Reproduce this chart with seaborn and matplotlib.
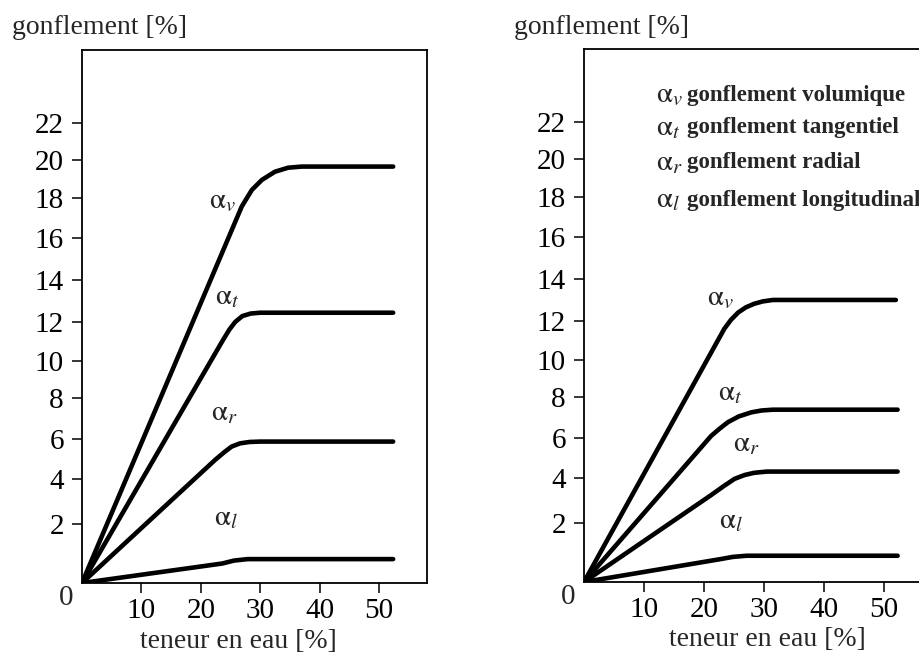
import numpy as np
import pandas as pd
import matplotlib
matplotlib.use("Agg")
import matplotlib.pyplot as plt
import seaborn as sns

# ---------------- data ----------------
series_names = ["v", "t", "r", "l"]

# left panel (curves)
left_v_x = [0, 26.9, 28.6, 30.3, 32.5, 34.7, 37.0, 52.4]
left_v_y = [0, 17.57, 18.42, 18.95, 19.38, 19.59, 19.65, 19.65]
left_t_x = [0, 23.6, 24.8, 25.8, 27.0, 28.4, 30.0, 52.4]
left_t_y = [0, 11.0, 11.6, 12.0, 12.28, 12.40, 12.44, 12.44]
left_r_x = [0, 22.4, 24.0, 25.2, 26.6, 28.2, 30.0, 52.4]
left_r_y = [0, 4.95, 5.35, 5.62, 5.78, 5.85, 5.87, 5.87]
left_l_x = [0, 23.6, 25.6, 27.9, 52.4]
left_l_y = [0, 0.66, 0.76, 0.81, 0.81]

# right panel
right_v_x = [0, 23.4, 24.5, 25.7, 27.0, 28.4, 29.8, 31.5, 52.0]
right_v_y = [0, 11.6, 12.05, 12.4, 12.65, 12.82, 12.93, 13.0, 13.0]
right_t_x = [0, 21.2, 22.6, 24.0, 25.8, 27.9, 29.6, 31.5, 52.3]
right_t_y = [0, 6.1, 6.45, 6.77, 7.05, 7.25, 7.34, 7.38, 7.38]
right_r_x = [0, 21.2, 23.2, 25.1, 26.8, 28.4, 30.5, 52.3]
right_r_y = [0, 3.24, 3.62, 3.96, 4.15, 4.26, 4.32, 4.32]
right_l_x = [0, 22.6, 24.8, 27.1, 52.3]
right_l_y = [0, 0.77, 0.85, 0.89, 0.89]

x_ticks = [10, 20, 30, 40, 50]
y_ticks = [2, 4, 6, 8, 10, 12, 14, 16, 18, 20, 22]

legend_lines = [
    (r"$\mathrm{\alpha}_{v}$", "gonflement volumique"),
    (r"$\mathrm{\alpha}_{t}$", "gonflement tangentiel"),
    (r"$\mathrm{\alpha}_{r}$", "gonflement radial"),
    (r"$\mathrm{\alpha}_{l}$", "gonflement longitudinal"),
]
curve_labels = [r"$\mathrm{\alpha}_{v}$", r"$\mathrm{\alpha}_{t}$",
                r"$\mathrm{\alpha}_{r}$", r"$\mathrm{\alpha}_{l}$"]
y_label = "gonflement [%]"
x_label = "teneur en eau [%]"

# ---------------- style ----------------
sns.set_theme(style="ticks")
plt.rcParams["font.family"] = ["Liberation Serif", "DejaVu Serif"]
plt.rcParams["mathtext.fontset"] = "stix"

W, H = 919, 655
fig = plt.figure(figsize=(W / 100, H / 100), dpi=100)
fig.patch.set_facecolor("white")

# hand-drawn (non-uniform) vertical scale of the original figure
scale_vals = [-10, 0, 2, 4, 6, 8, 10, 12, 14, 16, 18, 20, 22, 40]
scale_pos = [-300, 0, 59, 104, 144, 185, 222, 261, 303, 345, 385, 423, 460, 794.8]


def fwd(v):
    return np.interp(v, scale_vals, scale_pos)


def inv(p):
    return np.interp(p, scale_pos, scale_vals)


def frac(x0, y0, x1, y1):
    return [x0 / W, (H - y1) / H, (x1 - x0) / W, (y1 - y0) / H]


ax1 = fig.add_axes(frac(82, 50, 427, 583))
ax2 = fig.add_axes(frac(584, 49, 930, 582))

left = {"v": (left_v_x, left_v_y), "t": (left_t_x, left_t_y),
        "r": (left_r_x, left_r_y), "l": (left_l_x, left_l_y)}
right = {"v": (right_v_x, right_v_y), "t": (right_t_x, right_t_y),
         "r": (right_r_x, right_r_y), "l": (right_l_x, right_l_y)}


def make_df(d):
    rows = []
    for k in series_names:
        xs, ys = d[k]
        for x, y in zip(xs, ys):
            rows.append({"x": x, "y": y, "s": k})
    return pd.DataFrame(rows)


for ax, d, xmax in [(ax1, left, 58.1), (ax2, right, 57.7)]:
    df = make_df(d)
    ax.set_yscale("function", functions=(fwd, inv))
    sns.lineplot(data=df, x="x", y="y", units="s", estimator=None, sort=False,
                 color="black", lw=3.3, ax=ax, legend=False,
                 solid_capstyle="round", solid_joinstyle="round")
    ax.set_xlim(0, xmax)
    ax.set_ylim(0, 25.92)
    ax.set_xticks(x_ticks)
    ax.set_xticklabels([str(v) for v in x_ticks])
    ax.set_yticks(y_ticks)
    ax.set_yticklabels([str(v) for v in y_ticks])
    ax.minorticks_off()
    ax.set_xlabel("")
    ax.set_ylabel("")
    for sp in ax.spines.values():
        sp.set_linewidth(1.3)
        sp.set_color("black")
        sp.set_visible(True)
    ax.tick_params(axis="both", direction="out", length=7, width=1.1,
                   colors="black", labelsize=21)
    ax.tick_params(axis="y", pad=6)
    ax.tick_params(axis="x", pad=4)
    ax.set_facecolor("white")
    ax.grid(False)
    ax.annotate("0", xy=(0, 0), xycoords="data", xytext=(-16, -15),
                textcoords="offset pixels", ha="center", va="center",
                fontsize=21, annotation_clip=False)

ax2.spines["right"].set_visible(False)


def ptxt(x, y, s, **kw):
    fig.text(x / W, 1 - y / H, s, ha="center", va="center", **kw)


for (x, y), s in zip([(222, 201), (227, 297), (224, 413), (226, 518)], curve_labels):
    ptxt(x, y, s, fontsize=21)
for (x, y), s in zip([(720, 298), (730, 393), (746, 444), (731, 521)], curve_labels):
    ptxt(x, y, s, fontsize=21)

# legend text block
for i, (sym, txt) in enumerate(legend_lines):
    y = [95, 128, 163, 200][i]
    fig.text(656 / W, 1 - y / H, sym, ha="left", va="center", fontsize=21)
    fig.text(687 / W, 1 - y / H, txt, ha="left", va="center", fontsize=16.5,
             fontweight="bold")

# axis titles
ptxt(99, 28, y_label, fontsize=20)
ptxt(602, 28, y_label, fontsize=20)
ptxt(238, 641, x_label, fontsize=20)
ptxt(767, 640, x_label, fontsize=20)

fig.savefig("out.png", dpi=100, facecolor="white")
